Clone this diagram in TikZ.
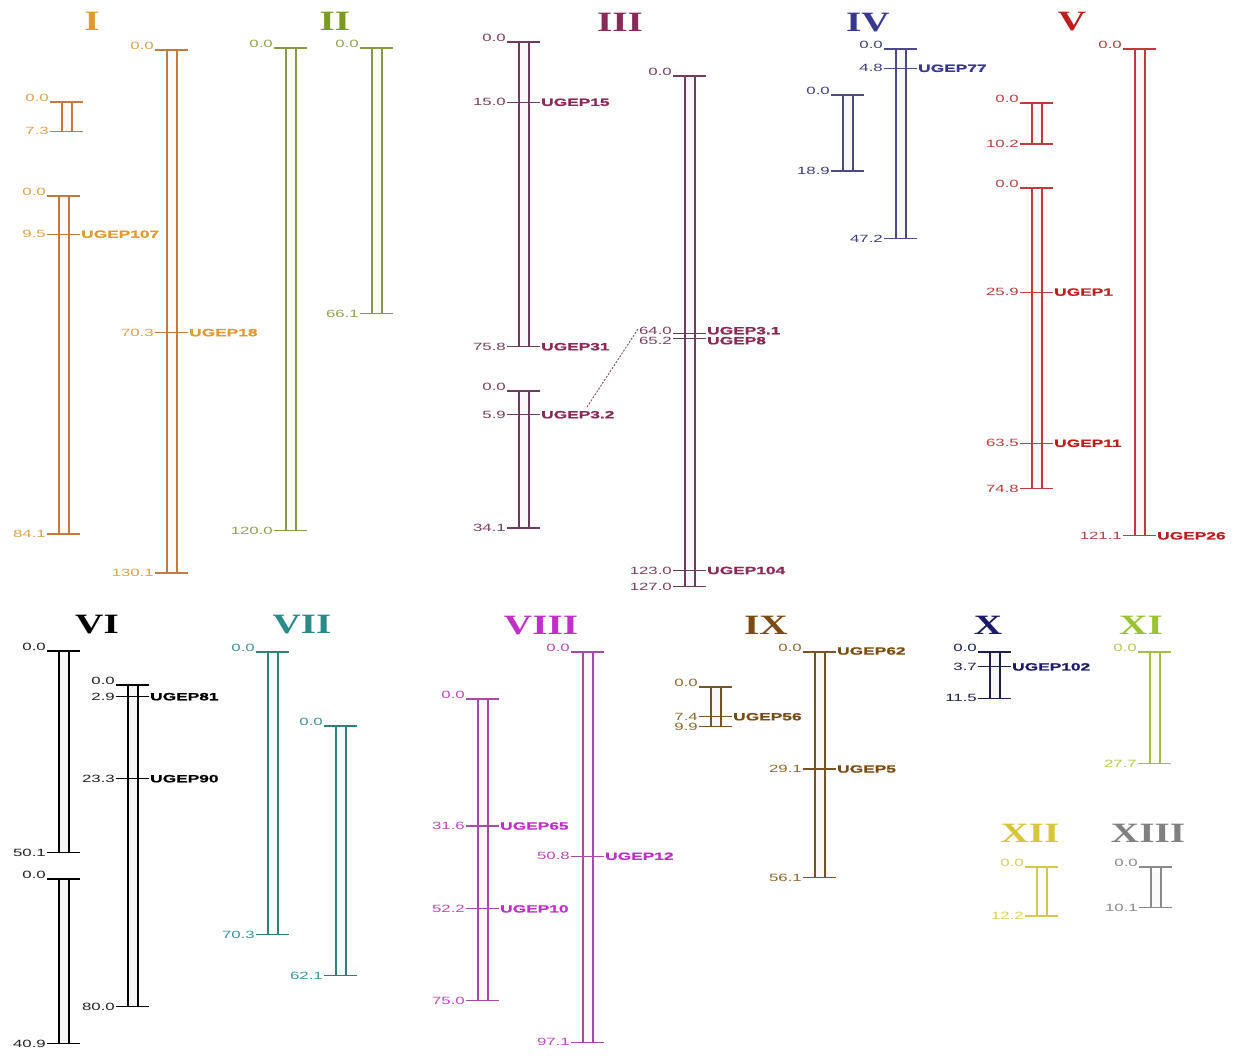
\documentclass[tikz,border=0pt]{standalone}
\usepackage{fontspec}
\setmainfont{Liberation Sans}
\newfontfamily\numfont[FakeStretch=1.6]{Liberation Sans}
\newfontfamily\mkfont[FakeStretch=1.65,BoldFeatures={FakeBold=1.2}]{Liberation Sans}
\newfontfamily\ttlfont[FakeStretch=1.4]{Liberation Serif}

\definecolor{IL}{HTML}{C47A3E}\definecolor{IT}{HTML}{DDA24A}\definecolor{IM}{HTML}{E09A30}
\definecolor{IIL}{HTML}{8A9748}\definecolor{IIT}{HTML}{95A050}\definecolor{IIM}{HTML}{7A9A22}
\definecolor{IIIL}{HTML}{6E3C5E}\definecolor{IIIT}{HTML}{7A4060}\definecolor{IIIM}{HTML}{8A2A58}
\definecolor{IVL}{HTML}{4A4A88}\definecolor{IVT}{HTML}{40407A}\definecolor{IVM}{HTML}{383890}
\definecolor{VL}{HTML}{C23A3A}\definecolor{VT}{HTML}{B84040}\definecolor{VM}{HTML}{BE1E1E}
\definecolor{VIL}{HTML}{000000}\definecolor{VIT}{HTML}{222222}\definecolor{VIM}{HTML}{000000}
\definecolor{VIIL}{HTML}{2F7F7F}\definecolor{VIIT}{HTML}{3A9898}\definecolor{VIIM}{HTML}{2A8A8A}
\definecolor{VIIIL}{HTML}{A848A8}\definecolor{VIIIT}{HTML}{C048C0}\definecolor{VIIIM}{HTML}{C030C8}
\definecolor{IXL}{HTML}{7A5224}\definecolor{IXT}{HTML}{8E6A2A}\definecolor{IXM}{HTML}{7A4C14}
\definecolor{XL}{HTML}{1E1E4E}\definecolor{XT}{HTML}{1E1E4E}\definecolor{XM}{HTML}{1A1A66}
\definecolor{XIL}{HTML}{A6BE48}\definecolor{XIT}{HTML}{B4CC50}\definecolor{XIM}{HTML}{9AC232}
\definecolor{XIIL}{HTML}{D6C84A}\definecolor{XIIT}{HTML}{DCCE5C}\definecolor{XIIM}{HTML}{D8C63A}
\definecolor{XIIIL}{HTML}{8A8A8A}\definecolor{XIIIT}{HTML}{8A8A8A}\definecolor{XIIIM}{HTML}{808080}

\tikzset{
  bar/.style={line width=1.2pt},
  num/.style={font=\numfont\fontsize{10.5}{10.5}\selectfont, inner sep=0pt},
  mk/.style={font=\mkfont\bfseries\fontsize{10.5}{10.5}\selectfont, inner sep=0pt},
  ttl/.style={font=\ttlfont\bfseries\fontsize{28}{28}\selectfont, inner sep=0pt, anchor=base},
}

% #1 id, #2 line colour, #3 text colour, #4 left x, #5 top y, #6 length (cM), #7 bottom label
\newcommand\chrom[7]{%
  \pgfmathsetmacro\chYb{#5+4.02*#6}%
  \pgfmathsetmacro\chXr{#4+10}%
  \fill[#2!4] (#4,#5) rectangle (\chXr,\chYb);
  \draw[bar,#2] (#4,#5) -- (#4,\chYb) (\chXr,#5) -- (\chXr,\chYb);
  \draw[bar,#2] (#4-12,#5) coordinate (#1-tl) -- (\chXr+11,#5) coordinate (#1-tr);
  \draw[bar,#2] (#4-12,\chYb) coordinate (#1-bl) -- (\chXr+11,\chYb) coordinate (#1-br);
  \node[num,text=#3,anchor=east] (#1-top) at ([xshift=-1pt,yshift=4pt]#1-tl) {0.0};
  \node[num,text=#3,anchor=east] (#1-bot) at ([xshift=-1pt]#1-bl) {#7};
}
% #1 id, #2 line, #3 text, #4 marker colour, #5 left x, #6 top y, #7 position, #8 name, #9 label shift
\newcommand\mkr[9]{%
  \pgfmathsetmacro\mkY{#6+4.02*#7}%
  \draw[bar,#2] (#5-12,\mkY) coordinate (#1-l) -- (#5+21,\mkY) coordinate (#1-r);
  \node[num,text=#3,anchor=east] (#1-pos) at ([xshift=-1pt,yshift=#9]#1-l) {#7};
  \node[mk,text=#4,anchor=west] (#1-name) at ([xshift=1pt,yshift=#9]#1-r) {#8};
}

\begin{document}
\begin{tikzpicture}[x=1pt,y=-1pt]
\fill[white] (0,0) rectangle (1241,1057);
\useasboundingbox (0,0) rectangle (1241,1057);

% ---------- I ----------
\node[ttl,text=IM] (tI) at (92,31) {I};
\chrom{Ia}{IL}{IT}{62}{102}{7.3}{7.3}
\chrom{Ib}{IL}{IT}{59}{196}{84.1}{84.1}
\mkr{Ib1}{IL}{IT}{IM}{59}{196}{9.5}{UGEP107}{0pt}
\chrom{Ic}{IL}{IT}{167}{50}{130.1}{130.1}
\mkr{Ic1}{IL}{IT}{IM}{167}{50}{70.3}{UGEP18}{0pt}

% ---------- II ----------
\node[ttl,text=IIM] (tII) at (335,31) {II};
\chrom{IIa}{IIL}{IIT}{286}{48}{120.0}{120.0}
\chrom{IIb}{IIL}{IIT}{372}{48}{66.1}{66.1}

% ---------- III ----------
\node[ttl,text=IIIM] (tIII) at (620,32) {III};
\chrom{IIIa}{IIIL}{IIIT}{519}{42}{75.8}{75.8}
\mkr{IIIa1}{IIIL}{IIIT}{IIIM}{519}{42}{15.0}{UGEP15}{0pt}
\node[mk,text=IIIM,anchor=west] (IIIa2-name) at ([xshift=1pt]IIIa-br) {UGEP31};
\chrom{IIIb}{IIIL}{IIIT}{519}{391}{34.1}{34.1}
\mkr{IIIb1}{IIIL}{IIIT}{IIIM}{519}{391}{5.9}{UGEP3.2}{0pt}
\chrom{IIIc}{IIIL}{IIIT}{685}{76}{127.0}{127.0}
\mkr{IIIc1}{IIIL}{IIIT}{IIIM}{685}{76}{64.0}{UGEP3.1}{2.6pt}
\mkr{IIIc2}{IIIL}{IIIT}{IIIM}{685}{76}{65.2}{UGEP8}{-2.6pt}
\mkr{IIIc3}{IIIL}{IIIT}{IIIM}{685}{76}{123.0}{UGEP104}{0pt}
\coordinate (IIId1) at (587,407);
\coordinate (IIId2) at (638,329);
\draw[IIIL,line width=0.8pt,dash pattern=on 2pt off 1.5pt] (IIId1) -- (IIId2);

% ---------- IV ----------
\node[ttl,text=IVM] (tIV) at (868,32) {IV};
\chrom{IVa}{IVL}{IVT}{843}{95}{18.9}{18.9}
\chrom{IVb}{IVL}{IVT}{896}{49}{47.2}{47.2}
\mkr{IVb1}{IVL}{IVT}{IVM}{896}{49}{4.8}{UGEP77}{0pt}

% ---------- V ----------
\node[ttl,text=VM] (tV) at (1072,31) {V};
\chrom{Va}{VL}{VT}{1032}{103}{10.2}{10.2}
\chrom{Vb}{VL}{VT}{1032}{188}{74.8}{74.8}
\mkr{Vb1}{VL}{VT}{VM}{1032}{188}{25.9}{UGEP1}{0pt}
\mkr{Vb2}{VL}{VT}{VM}{1032}{188}{63.5}{UGEP11}{0pt}
\chrom{Vc}{VL}{VT}{1135}{49}{121.1}{121.1}
\node[mk,text=VM,anchor=west] (Vc1-name) at ([xshift=1pt]Vc-br) {UGEP26};

% ---------- VI ----------
\node[ttl,text=VIM] (tVI) at (97,633) {VI};
\chrom{VIa}{VIL}{VIT}{59}{651}{50.1}{50.1}
\chrom{VIb}{VIL}{VIT}{59}{879}{40.9}{40.9}
\chrom{VIc}{VIL}{VIT}{128}{685}{80.0}{80.0}
\mkr{VIc1}{VIL}{VIT}{VIM}{128}{685}{2.9}{UGEP81}{0pt}
\mkr{VIc2}{VIL}{VIT}{VIM}{128}{685}{23.3}{UGEP90}{0pt}

% ---------- VII ----------
\node[ttl,text=VIIM] (tVII) at (302,633) {VII};
\chrom{VIIa}{VIIL}{VIIT}{268}{652}{70.3}{70.3}
\chrom{VIIb}{VIIL}{VIIT}{336}{726}{62.1}{62.1}

% ---------- VIII ----------
\node[ttl,text=VIIIM] (tVIII) at (541,634) {VIII};
\chrom{VIIIa}{VIIIL}{VIIIT}{478}{699}{75.0}{75.0}
\mkr{VIIIa1}{VIIIL}{VIIIT}{VIIIM}{478}{699}{31.6}{UGEP65}{0pt}
\mkr{VIIIa2}{VIIIL}{VIIIT}{VIIIM}{478}{699}{52.2}{UGEP10}{0pt}
\chrom{VIIIb}{VIIIL}{VIIIT}{583}{652}{97.1}{97.1}
\mkr{VIIIb1}{VIIIL}{VIIIT}{VIIIM}{583}{652}{50.8}{UGEP12}{0pt}

% ---------- IX ----------
\node[ttl,text=IXM] (tIX) at (766,634) {IX};
\chrom{IXa}{IXL}{IXT}{711}{687}{9.9}{9.9}
\mkr{IXa1}{IXL}{IXT}{IXM}{711}{687}{7.4}{UGEP56}{0pt}
\chrom{IXb}{IXL}{IXT}{815}{652}{56.1}{56.1}
\node[mk,text=IXM,anchor=west] (IXb0-name) at ([xshift=1pt,yshift=1pt]IXb-tr) {UGEP62};
\mkr{IXb1}{IXL}{IXT}{IXM}{815}{652}{29.1}{UGEP5}{0pt}

% ---------- X ----------
\node[ttl,text=XM] (tX) at (988,634) {X};
\chrom{X}{XL}{XT}{990}{652}{11.5}{11.5}
\mkr{X1}{XL}{XT}{XM}{990}{652}{3.7}{UGEP102}{0pt}

% ---------- XI ----------
\node[ttl,text=XIM] (tXI) at (1141,634) {XI};
\chrom{XI}{XIL}{XIT}{1150}{652}{27.7}{27.7}

% ---------- XII ----------
\node[ttl,text=XIIM] (tXII) at (1030,842) {XII};
\chrom{XII}{XIIL}{XIIT}{1037}{867}{12.2}{12.2}

% ---------- XIII ----------
\node[ttl,text=XIIIM] (tXIII) at (1148,842) {XIII};
\chrom{XIII}{XIIIL}{XIIIT}{1151}{867}{10.1}{10.1}
\end{tikzpicture}
\end{document}
